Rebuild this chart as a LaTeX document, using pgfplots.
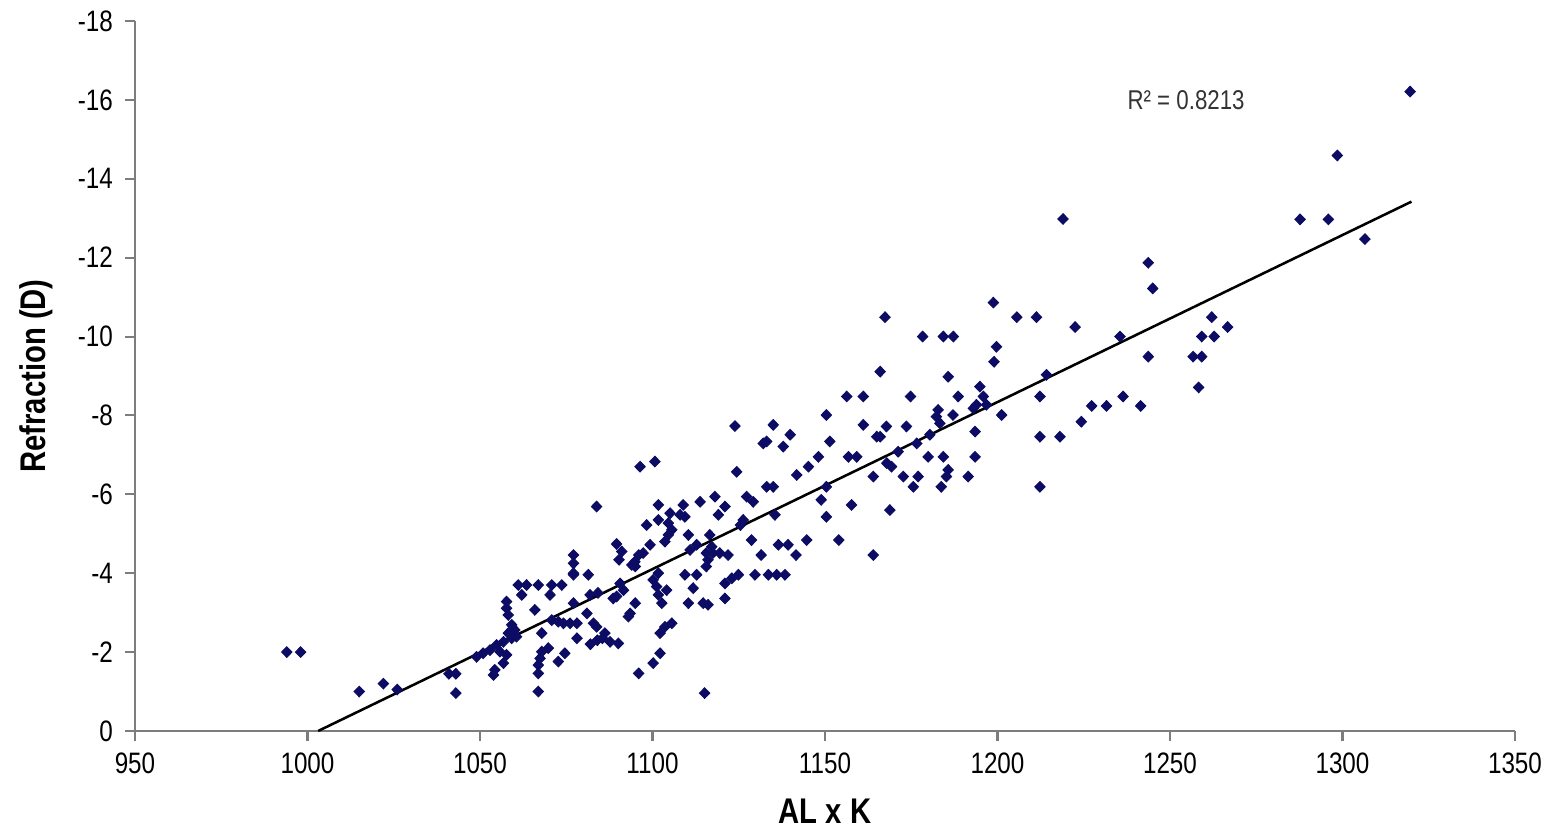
\documentclass[border=0pt]{standalone}
\usepackage{fontspec}
\setmainfont{Liberation Sans}[FakeStretch=0.82]
\usepackage{pgfplots}
\pgfplotsset{compat=1.18}
\definecolor{pt}{RGB}{12,12,100}
\definecolor{axgray}{RGB}{125,125,125}
\begin{document}
\begin{tikzpicture}
\begin{axis}[
  at={(0,0)}, anchor=south west,
  scale only axis, width=14.282cm, height=7.348cm,
  xmin=950, xmax=1350, ymin=-18, ymax=0, y dir=reverse,
  axis x line*=bottom, axis y line*=left,
  axis line style={-, axgray, line width=0.7pt},
  xtick={950,1000,...,1350}, ytick={-18,-16,...,0},
  tick align=outside, major tick length=3pt,
  tick style={axgray, line width=0.6pt},
  /pgf/number format/assume math mode=true,
  /pgf/number format/set thousands separator={},
  tick label style={font=\fontsize{8.7}{10}\selectfont},
  xlabel={AL x K}, ylabel={Refraction (D)},
  label style={font=\bfseries\fontsize{10.5}{12}\selectfont},
  xlabel style={at={(axis description cs:0.5,-0.1134)},anchor=center},
  ylabel style={at={(axis description cs:-0.0712,0.5)},anchor=center},
  clip=false,
]
\addplot[only marks, mark=diamond*, mark size=1.55pt, mark options={fill=pt, draw=pt, xscale=1.3, line width=0.3pt}] table {
x y
994 -2
998 -2
1015 -1
1022 -1.2
1026 -1.05
1041 -1.45
1043 -1.45
1043 -0.96
1049 -1.88
1050.9 -1.97
1052.9 -2.05
1053.9 -1.42
1054.3 -1.55
1054.8 -2.18
1055.8 -2.01
1056.8 -2.26
1056.8 -1.72
1057.7 -1.93
1057.7 -3.28
1057.7 -3.11
1058.2 -2.94
1058.2 -2.48
1059.2 -2.69
1059.2 -2.35
1060.1 -2.56
1060.6 -2.39
1061.1 -3.70
1062.1 -3.45
1063.5 -3.70
1065.9 -3.07
1066.9 -3.70
1067.9 -2.48
1069.8 -2.10
1067.9 -2.01
1067.4 -1.84
1066.9 -1.67
1066.9 -1.46
1066.9 -1.0
1070.3 -3.45
1070.8 -3.70
1073.7 -3.70
1070.8 -2.81
1072.7 -2.77
1074.2 -2.73
1076.1 -2.73
1078.1 -2.73
1072.7 -1.76
1074.6 -1.97
1077.1 -3.96
1077.1 -3.24
1078.1 -2.35
1077.1 -4.46
1077.1 -4.25
1077.1 -4.00
1081.4 -3.96
1081.9 -3.45
1084.2 -3.50
1081.0 -2.98
1082.0 -2.20
1084.0 -2.30
1085.5 -2.35
1086.2 -2.48
1087.7 -2.26
1090.1 -2.22
1083.8 -2.64
1082.9 -2.73
1083.8 -5.69
1089.6 -4.74
1091.1 -4.55
1090.3 -4.34
1094.0 -4.21
1094.9 -4.29
1095.0 -4.17
1096.0 -4.46
1097.3 -4.51
1099.3 -4.72
1098.3 -5.22
1096.4 -6.70
1100.7 -6.83
1101.7 -5.73
1101.7 -5.35
1105.1 -5.52
1108.0 -5.48
1109.4 -5.43
1104.6 -5.27
1105.6 -5.10
1104.6 -4.97
1103.6 -4.80
1108.9 -5.73
1113.8 -5.81
1118.1 -5.94
1121.0 -5.69
1119.1 -5.48
1110.4 -4.97
1112.8 -4.72
1116.6 -4.97
1117.2 -4.67
1110.9 -4.59
1115.6 -4.51
1117.5 -4.51
1119.5 -4.51
1116.1 -4.34
1115.6 -4.17
1121.9 -4.46
1090.6 -3.74
1091.6 -3.57
1089.6 -3.41
1088.6 -3.36
1095.0 -3.24
1093.5 -2.98
1093.0 -2.90
1101.7 -4.00
1100.2 -3.83
1101.2 -3.66
1101.7 -3.45
1104.1 -3.57
1102.7 -3.24
1109.4 -3.96
1112.8 -3.96
1111.8 -3.62
1110.4 -3.24
1114.7 -3.24
1116.1 -3.20
1121.0 -3.74
1123.0 -3.87
1124.9 -3.96
1121.0 -3.36
1105.6 -2.73
1103.6 -2.64
1102.2 -2.48
1102.2 -1.97
1100.2 -1.72
1096.0 -1.46
1115.1 -0.96
1123.9 -7.73
1124.4 -6.57
1126.3 -5.35
1125.5 -5.22
1127.3 -5.94
1129.2 -5.81
1128.7 -4.84
1129.7 -3.96
1133.6 -3.96
1136.0 -3.96
1138.4 -3.96
1131.5 -4.46
1135.0 -7.76
1132.1 -7.29
1133.1 -7.34
1137.9 -7.21
1139.9 -7.51
1133.1 -6.19
1135.0 -6.19
1135.5 -5.48
1136.5 -4.72
1139.3 -4.72
1141.6 -4.46
1144.7 -4.84
1141.8 -6.49
1145.2 -6.70
1148.1 -6.95
1150.4 -8.01
1151.4 -7.34
1150.4 -6.19
1148.9 -5.86
1150.4 -5.43
1154.0 -4.84
1157.7 -5.73
1156.8 -6.95
1159.2 -6.95
1156.3 -8.48
1161.1 -8.48
1161.1 -7.76
1164.0 -6.45
1165.0 -7.46
1164.0 -4.46
1168.8 -5.60
1166.0 -9.11
1167.4 -10.49
1167.8 -7.72
1166.0 -7.46
1167.9 -6.79
1169.3 -6.70
1171.2 -7.08
1172.7 -6.45
1173.6 -7.72
1174.8 -8.48
1175.6 -6.19
1176.6 -7.29
1177.0 -6.45
1178.3 -10.00
1179.9 -6.95
1180.4 -7.51
1182.3 -7.97
1182.8 -8.14
1183.3 -7.80
1183.7 -6.19
1184.3 -10.00
1184.3 -6.95
1185.2 -6.45
1185.7 -6.62
1185.7 -8.98
1187.1 -8.01
1187.2 -10.00
1188.6 -8.48
1191.5 -6.45
1193.0 -8.18
1193.5 -7.59
1193.5 -6.95
1193.9 -8.27
1194.9 -8.73
1195.9 -8.48
1196.8 -8.27
1198.8 -10.86
1199.0 -9.36
1199.7 -9.74
1201.2 -8.01
1205.6 -10.49
1211.3 -10.49
1212.3 -8.48
1212.3 -7.46
1212.3 -6.19
1214.2 -9.03
1218.1 -7.46
1219.0 -12.98
1222.5 -10.24
1224.3 -7.84
1227.3 -8.24
1231.6 -8.24
1235.5 -10.00
1236.4 -8.48
1241.5 -8.24
1243.7 -11.87
1245.0 -11.22
1243.7 -9.49
1256.7 -9.49
1259.2 -9.49
1258.3 -8.71
1259.2 -10.00
1262.8 -10.00
1262.1 -10.49
1266.7 -10.24
1287.7 -12.97
1295.9 -12.97
1298.5 -14.59
1306.5 -12.47
1319.6 -16.21
};
\addplot[black, line width=0.75pt] coordinates {(1003.1,0) (1320,-13.42)};
\node[anchor=west, inner sep=0pt, text=black!80, font=\fontsize{8}{9}\selectfont] at (axis cs:1237.5,-16) {R² = 0.8213};
\end{axis}
\pgfresetboundingbox
\path (-1.397cm,-1.087cm) rectangle (14.603cm,7.565cm);
\end{tikzpicture}
\end{document}
